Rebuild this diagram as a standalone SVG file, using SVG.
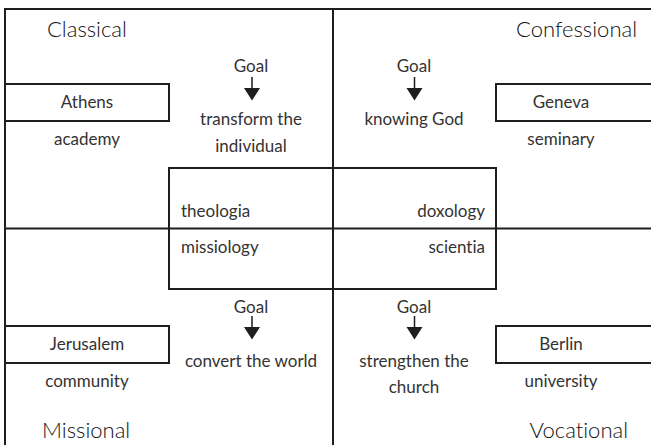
<svg xmlns="http://www.w3.org/2000/svg" width="651" height="445" viewBox="0 0 651 445">
<defs>
<style>
.ln{stroke:#1e1e1e;stroke-width:2;fill:none}
.bx{stroke:#1e1e1e;stroke-width:2;fill:#fff}
text{font-family:Lato,"Open Sans","Liberation Sans",sans-serif;fill:#333;font-variant-ligatures:none}
.t{font-size:22px;font-weight:300;fill:#111}
.s{font-size:17px;font-weight:400}
.c{text-anchor:middle}
.e{text-anchor:end}
.ah{fill:#1e1e1e}
</style>
</defs>
<rect width="651" height="445" fill="#fff"/>
<g id="frame">
<path class="ln" d="M5 445 V9 H651"/>
<path class="ln" d="M333 9 V445"/>
<path class="ln" d="M5 228.5 H651"/>
</g>
<g id="center">
<rect class="ln" x="169" y="168" width="327" height="121"/>
<text class="s" x="181" y="217">theologia</text>
<text class="s e" x="485" y="217">doxology</text>
<text class="s" x="181" y="253">missiology</text>
<text class="s e" x="485" y="253">scientia</text>
</g>
<g id="classical">
<text class="t" x="47" y="37">Classical</text>
<rect class="bx" x="5" y="84" width="164" height="37"/>
<text class="s c" x="87" y="108">Athens</text>
<text class="s c" x="87" y="145">academy</text>
</g>
<g id="confessional">
<text class="t e" x="637" y="37">Confessional</text>
<rect class="bx" x="496" y="84" width="160" height="37"/>
<text class="s c" x="561" y="108">Geneva</text>
<text class="s c" x="561" y="145">seminary</text>
</g>
<g id="missional">
<text class="t" x="42" y="438">Missional</text>
<rect class="bx" x="5" y="326" width="164" height="37"/>
<text class="s c" x="87" y="350">Jerusalem</text>
<text class="s c" x="87" y="387">community</text>
</g>
<g id="vocational">
<text class="t e" x="628" y="438">Vocational</text>
<rect class="bx" x="496" y="326" width="160" height="37"/>
<text class="s c" x="561" y="350">Berlin</text>
<text class="s c" x="561" y="387">university</text>
</g>
<g id="goal-classical">
<text class="s c" x="251" y="72">Goal</text>
<text class="s c" x="251" y="125">transform the</text>
<text class="s c" x="251" y="152">individual</text>
</g>
<g id="goal-confessional">
<text class="s c" x="414" y="72">Goal</text>
<text class="s c" x="414" y="125">knowing God</text>
</g>
<g id="goal-missional">
<text class="s c" x="251" y="313">Goal</text>
<text class="s c" x="251" y="367">convert the world</text>
</g>
<g id="goal-vocational">
<text class="s c" x="414" y="313">Goal</text>
<text class="s c" x="414" y="367">strengthen the</text>
<text class="s c" x="414" y="393">church</text>
</g>
<g id="connectors">
<path class="ln" style="stroke-width:1.5" d="M252 77 V89 M414.5 77 V89 M252 316 V328 M414.5 316 V328"/>
<path class="ah" d="M244 88 H260 L252 100.5 Z M406.5 88 H422.5 L414.5 100.5 Z M244 327 H260 L252 339.5 Z M406.5 327 H422.5 L414.5 339.5 Z"/>
</g>
</svg>
